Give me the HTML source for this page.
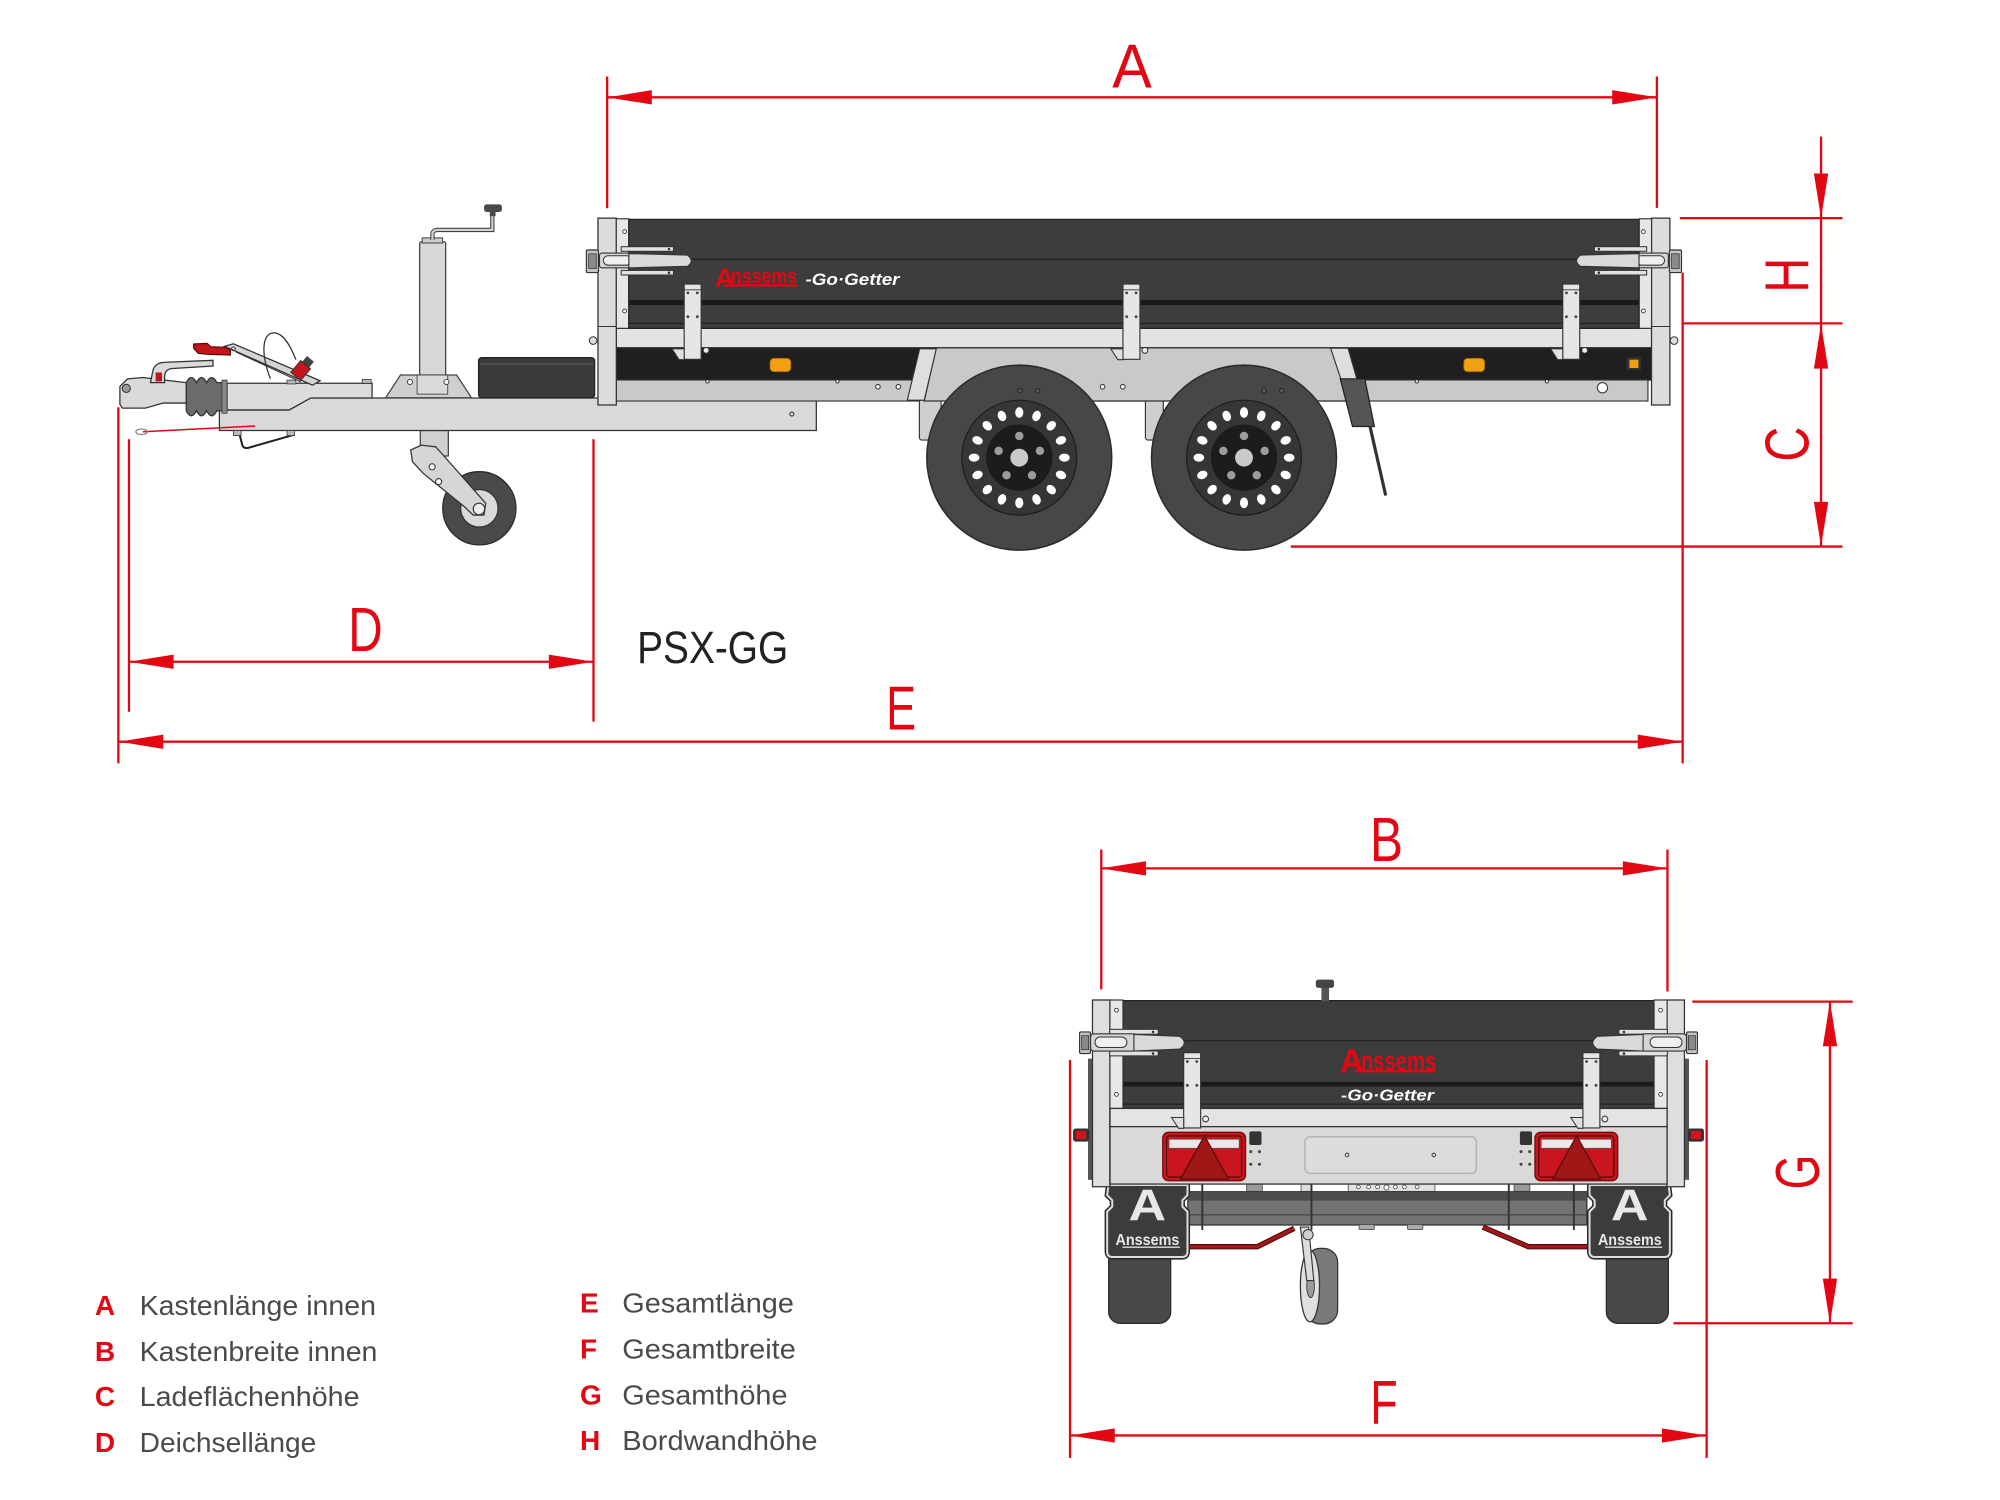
<!DOCTYPE html>
<html><head><meta charset="utf-8">
<style>
html,body{margin:0;padding:0;background:#fff;}
svg{display:block;}
text{font-family:"Liberation Sans",Arial,sans-serif;}
</style></head><body>
<svg width="2000" height="1500" viewBox="0 0 1568 1176" xmlns="http://www.w3.org/2000/svg" xmlns:xlink="http://www.w3.org/1999/xlink">
<rect width="1568" height="1176" fill="#fff"/>
<defs>
 <g id="wheel">
  <circle r="72.5" fill="#474747" stroke="#2b2b2b" stroke-width="1.2"/>
  <circle r="45" fill="#363636" stroke="#1e1e1e" stroke-width="1"/>
  <circle r="26" fill="#1c1c1c"/>
  <g fill="#fff">
   <ellipse cx="0" cy="-35.4" rx="3.2" ry="4.2"/>
   <ellipse cx="0" cy="-35.4" rx="3.2" ry="4.2" transform="rotate(22.5)"/>
   <ellipse cx="0" cy="-35.4" rx="3.2" ry="4.2" transform="rotate(45)"/>
   <ellipse cx="0" cy="-35.4" rx="3.2" ry="4.2" transform="rotate(67.5)"/>
   <ellipse cx="0" cy="-35.4" rx="3.2" ry="4.2" transform="rotate(90)"/>
   <ellipse cx="0" cy="-35.4" rx="3.2" ry="4.2" transform="rotate(112.5)"/>
   <ellipse cx="0" cy="-35.4" rx="3.2" ry="4.2" transform="rotate(135)"/>
   <ellipse cx="0" cy="-35.4" rx="3.2" ry="4.2" transform="rotate(157.5)"/>
   <ellipse cx="0" cy="-35.4" rx="3.2" ry="4.2" transform="rotate(180)"/>
   <ellipse cx="0" cy="-35.4" rx="3.2" ry="4.2" transform="rotate(202.5)"/>
   <ellipse cx="0" cy="-35.4" rx="3.2" ry="4.2" transform="rotate(225)"/>
   <ellipse cx="0" cy="-35.4" rx="3.2" ry="4.2" transform="rotate(247.5)"/>
   <ellipse cx="0" cy="-35.4" rx="3.2" ry="4.2" transform="rotate(270)"/>
   <ellipse cx="0" cy="-35.4" rx="3.2" ry="4.2" transform="rotate(292.5)"/>
   <ellipse cx="0" cy="-35.4" rx="3.2" ry="4.2" transform="rotate(315)"/>
   <ellipse cx="0" cy="-35.4" rx="3.2" ry="4.2" transform="rotate(337.5)"/>
  </g>
  <g fill="#9c9c9c">
   <circle cx="0" cy="-17" r="3.3"/>
   <circle cx="16.2" cy="-5.3" r="3.3"/>
   <circle cx="10" cy="13.8" r="3.3"/>
   <circle cx="-10" cy="13.8" r="3.3"/>
   <circle cx="-16.2" cy="-5.3" r="3.3"/>
  </g>
  <circle r="7" fill="#cacaca"/>
 </g>
 <g id="stake">
  <rect x="0" y="0" width="13.3" height="59" fill="#e6e6e6" stroke="#333" stroke-width="0.9"/>
  <line x1="0" y1="4.5" x2="13.3" y2="4.5" stroke="#333" stroke-width="0.7"/>
  <g fill="#444"><circle cx="2.9" cy="6.9" r="1.1"/><circle cx="10.3" cy="6.9" r="1.1"/><circle cx="2.9" cy="25.6" r="1.1"/><circle cx="10.3" cy="25.6" r="1.1"/></g>
  <polygon points="-9.5,50.8 0,50.8 0,59.3 -4,59.3" fill="#e0e0e0" stroke="#333" stroke-width="0.8"/>
  <circle cx="17.2" cy="52" r="2.3" fill="#eee" stroke="#333" stroke-width="0.8"/>
 </g>
 <g id="latchS">
  <rect x="459.7" y="196" width="9.5" height="17.7" rx="1" fill="#c4c4c4" stroke="#333" stroke-width="0.9"/>
  <rect x="461.5" y="199" width="6" height="11.5" fill="#8a8a8a" stroke="#333" stroke-width="0.6"/>
  <rect x="487" y="193.4" width="41" height="3.6" fill="#e2e2e2" stroke="#333" stroke-width="0.8"/>
  <rect x="487" y="212" width="41" height="3.6" fill="#e2e2e2" stroke="#333" stroke-width="0.8"/>
  <circle cx="524.5" cy="195.2" r="1" fill="#333"/>
  <circle cx="524.5" cy="213.8" r="1" fill="#333"/>
  <rect x="470" y="198.4" width="32" height="11.6" rx="2" fill="#d6d6d6" stroke="#333" stroke-width="0.9"/>
  <rect x="473" y="200.5" width="22" height="7.4" rx="3.7" fill="#efefef" stroke="#333" stroke-width="0.8"/>
  <path d="M493 198.8 L539 200 Q545 204.4 539 208.8 L493 210 Z" fill="#d9d9d9" stroke="#333" stroke-width="0.9"/>
 </g>
 <g id="latchR">
  <rect x="846.4" y="809" width="8.5" height="17" rx="1" fill="#c4c4c4" stroke="#333" stroke-width="0.9"/>
  <rect x="848" y="812" width="5.5" height="11" fill="#8a8a8a" stroke="#333" stroke-width="0.6"/>
  <rect x="870" y="807" width="38" height="3.8" fill="#e2e2e2" stroke="#333" stroke-width="0.8"/>
  <rect x="870" y="824" width="38" height="3.8" fill="#e2e2e2" stroke="#333" stroke-width="0.8"/>
  <circle cx="904" cy="809" r="1" fill="#333"/>
  <circle cx="904" cy="826" r="1" fill="#333"/>
  <rect x="855" y="810.5" width="36" height="13.5" rx="2.5" fill="#d6d6d6" stroke="#333" stroke-width="0.9"/>
  <rect x="858.5" y="813" width="25" height="8.2" rx="4" fill="#efefef" stroke="#333" stroke-width="0.8"/>
  <path d="M889 811 L925 812.5 Q932 817.5 925 822.5 L889 824 Z" fill="#d9d9d9" stroke="#333" stroke-width="0.9"/>
 </g>
 <g id="taillight">
  <rect x="911.6" y="887.7" width="64.9" height="38" rx="4.5" fill="#c8141d" stroke="#6e0a0f" stroke-width="1"/>
  <rect x="914.6" y="890.6" width="58.9" height="32.2" rx="2.5" fill="#c9161e" stroke="#4a0808" stroke-width="0.9"/>
  <rect x="916.5" y="893.2" width="55" height="7" fill="#e8e8e8" stroke="#555" stroke-width="0.5"/>
  <polygon points="944.3,890.4 963,924.3 925.6,924.3" fill="#a01717" stroke="#5e0b0b" stroke-width="1" stroke-linejoin="round"/>
 </g>
 <g id="flap">
  <path d="M869 929 L931 929 L931 937 L927 941 L927 946 L931 950 L931 981 Q931 985.5 927 985.5 L872 985.5 Q868 985.5 868 981 L868 950 L872 946 L872 941 L868 937 Z" fill="#3c3c3c" stroke="#2a2a2a" stroke-width="4"/>
  <path d="M869 929 L931 929 L931 937 L927 941 L927 946 L931 950 L931 981 Q931 985.5 927 985.5 L872 985.5 Q868 985.5 868 981 L868 950 L872 946 L872 941 L868 937 Z" fill="#3c3c3c" stroke="#dcdcdc" stroke-width="1.6"/>
 </g>
</defs>

<!-- ================= SIDE VIEW ================= -->
<rect x="329" y="189.5" width="20.4" height="148" rx="1.5" fill="#d8d8d8" stroke="#444" stroke-width="1"/>
<rect x="331" y="186.5" width="16" height="4" fill="#ccc" stroke="#444" stroke-width="0.8"/>
<path d="M339 188 L339 184 Q339 180.3 343 180.3 L386 180.3 L386 168" stroke="#444" stroke-width="3.4" fill="none"/>
<path d="M339 188 L339 184 Q339 180.3 343 180.3 L386 180.3 L386 168" stroke="#d2d2d2" stroke-width="1.7" fill="none"/>
<rect x="379.5" y="160.2" width="14" height="6" rx="2" fill="#4a4a4a"/>
<rect x="384" y="165.5" width="4.5" height="4" fill="#4a4a4a"/>
<rect x="329.5" y="337.5" width="22" height="20" fill="#d0d0d0" stroke="#444" stroke-width="1"/>
<circle cx="375.8" cy="398.5" r="28.7" fill="#4a4a4a" stroke="#2a2a2a" stroke-width="1"/>
<circle cx="375.8" cy="398.5" r="14.7" fill="#d9d9d9" stroke="#333" stroke-width="1"/>
<polygon points="322,352.8 330.4,349 341.6,350.3 348.6,358.1 380.8,394.6 379.4,403.8 371,403.8 364,397.2 331.8,371.1 323.4,362" fill="#d6d6d6" stroke="#333" stroke-width="1"/>
<circle cx="338.8" cy="366" r="2.4" fill="#fff" stroke="#333" stroke-width="0.8"/>
<circle cx="343.9" cy="377.6" r="2.4" fill="#fff" stroke="#333" stroke-width="0.8"/>
<circle cx="375.5" cy="399" r="4.5" fill="#eee" stroke="#333" stroke-width="0.9"/>

<polygon points="172,321.4 226.7,321.4 243.6,312 640,312 640,337.5 172,337.5" fill="#d9d9d9" stroke="#333" stroke-width="1"/>
<polygon points="178,300.5 291.7,300.5 291.7,312 243.6,312 226.7,321.4 178,321.4" fill="#dcdcdc" stroke="#333" stroke-width="1"/>
<rect x="284" y="297.5" width="7" height="3" fill="#bbb" stroke="#333" stroke-width="0.6"/>
<rect x="225" y="298" width="7" height="3" fill="#bbb" stroke="#333" stroke-width="0.6"/>
<circle cx="620.8" cy="324.6" r="1.6" fill="none" stroke="#333" stroke-width="0.8"/>
<path d="M187 337.5 L190 349 Q191 352 195 351 L230 341 L229 337.5" stroke="#222" stroke-width="1.6" fill="none"/>
<rect x="183" y="337.5" width="6" height="4" fill="#bbb" stroke="#333" stroke-width="0.6"/>
<rect x="225" y="337.5" width="6" height="4" fill="#bbb" stroke="#333" stroke-width="0.6"/>
<line x1="112" y1="338.5" x2="200" y2="334" stroke="#e30613" stroke-width="1.2"/>
<ellipse cx="111" cy="338.5" rx="4.5" ry="2.2" fill="none" stroke="#888" stroke-width="1"/>
<polygon points="302.4,311.8 314,294 358,294 369.6,311.8" fill="#cfcfcf" stroke="#444" stroke-width="1"/>
<rect x="327" y="294" width="24" height="15" fill="#dadada" stroke="#444" stroke-width="0.7"/>
<circle cx="321.4" cy="299.5" r="2" fill="#fff" stroke="#444" stroke-width="0.8"/>
<circle cx="350" cy="299.5" r="2" fill="#fff" stroke="#444" stroke-width="0.8"/>
<rect x="375.2" y="280.4" width="91" height="31.4" rx="2.5" fill="#3b3b3b" stroke="#222" stroke-width="1"/>
<line x1="376" y1="285.5" x2="465" y2="285.5" stroke="#555" stroke-width="1"/>

<path d="M146 300 Q150 292 154 300 Q158 292 162 300 Q166 292 170 300 L176.4 300 L176.4 322 L170 322 Q166 330 162 322 Q158 330 154 322 Q150 330 146 322 Z" fill="#6b6b6b" stroke="#333" stroke-width="1"/>
<rect x="174" y="298" width="4" height="26" fill="#888" stroke="#333" stroke-width="0.6"/>
<polygon points="94,303 100,297 112,296 146,300 146,316 128,316 114,320 96,320 94,317" fill="#dadada" stroke="#333" stroke-width="1"/>
<path d="M118 300 L120 290 Q122 284 130 284 L167 282.5 L167 287 L134 289 Q129 290 129 296 L129 300 Z" fill="#dadada" stroke="#333" stroke-width="1"/>
<rect x="122" y="292" width="5" height="7" fill="#c0161e"/>
<circle cx="99" cy="304.5" r="3.2" fill="#9a9a9a" stroke="#333" stroke-width="0.8"/>
<polygon points="176,271.5 183,269.5 251,298.5 245,302" fill="#d4d4d4" stroke="#333" stroke-width="1"/>
<line x1="185" y1="276" x2="236" y2="299.5" stroke="#333" stroke-width="0.8"/>
<circle cx="183" cy="273.5" r="1.5" fill="none" stroke="#333" stroke-width="0.7"/>
<polygon points="151.8,269.7 162.4,269.2 165.2,271.8 176.4,272.3 180.6,274.4 180.6,278.3 162.4,277.8 155.4,277 151.8,273.1" fill="#c3151c" stroke="#5a0a0a" stroke-width="0.9"/>
<path d="M212 297 C204 276 206 262 214 261 C222 260 228 272 232 282" stroke="#333" stroke-width="1" fill="none"/>
<g transform="translate(237,289) rotate(40)">
 <rect x="-3.5" y="-10" width="7" height="6" fill="#444"/>
 <rect x="-5" y="-4" width="10" height="12" fill="#c3151c" stroke="#333" stroke-width="0.8"/>
</g>

<rect x="483" y="272.6" width="812" height="25.3" fill="#1f1f1f" stroke="#222" stroke-width="1"/>
<rect x="483" y="297.9" width="809" height="16.5" fill="#c9c9c9" stroke="#333" stroke-width="0.9"/>
<rect x="720.8" y="313" width="17" height="32" rx="2" fill="#cfcfcf" stroke="#333" stroke-width="0.9"/>
<rect x="898" y="313" width="14" height="32" rx="2" fill="#cfcfcf" stroke="#333" stroke-width="0.9"/>
<polygon points="734,272.6 1050,272.6 1063,314.4 724.6,314.4" fill="#c9c9c9" stroke="#333" stroke-width="1"/>
<polygon points="721,273.5 734,273.5 724.6,313.8 711.3,313.8" fill="#dedede" stroke="#333" stroke-width="0.9"/>
<polygon points="1043.2,273 1056.9,273 1068.6,314 1056.8,314" fill="#dedede" stroke="#333" stroke-width="0.9"/>
<rect x="483" y="257.4" width="812" height="15.2" fill="#e3e3e3" stroke="#333" stroke-width="1"/>
<rect x="493" y="172" width="792" height="85.4" fill="#3d3d3d" stroke="#222" stroke-width="1"/>
<line x1="493" y1="203.3" x2="1285" y2="203.3" stroke="#222" stroke-width="1"/>
<rect x="493" y="235.2" width="792" height="4" fill="#1a1a1a"/>
<line x1="493" y1="253.5" x2="1285" y2="253.5" stroke="#222" stroke-width="1"/>
<rect x="603.7" y="281" width="16.3" height="10.4" rx="3" fill="#f0a010" stroke="#a86800" stroke-width="0.6"/>
<rect x="1147.6" y="281" width="16.3" height="10.4" rx="3" fill="#f0a010" stroke="#a86800" stroke-width="0.6"/>
<rect x="1275.5" y="280" width="11" height="10" fill="#333"/>
<rect x="1277.5" y="282" width="7" height="6.5" fill="#f0a010"/>
<g fill="#fff" stroke="#333" stroke-width="0.8">
 <circle cx="688.3" cy="303.2" r="1.8"/><circle cx="704.3" cy="303.2" r="1.8"/>
 <circle cx="864.4" cy="303.2" r="1.8"/><circle cx="880.3" cy="303.2" r="1.8"/>
 <circle cx="554.7" cy="299" r="1.3"/><circle cx="656.5" cy="299" r="1.3"/>
 <circle cx="1110.8" cy="299" r="1.3"/><circle cx="1212.8" cy="299" r="1.3"/>
 <circle cx="1256.3" cy="304" r="4"/>
</g>
<rect x="468.8" y="171" width="14.4" height="146.5" fill="#dcdcdc" stroke="#333" stroke-width="1"/>
<line x1="468.8" y1="256" x2="483.2" y2="256" stroke="#333" stroke-width="0.8"/>
<rect x="483.2" y="171.5" width="9.6" height="85.9" fill="#e6e6e6" stroke="#333" stroke-width="0.9"/>
<rect x="1294.8" y="171" width="14.4" height="146.5" fill="#dcdcdc" stroke="#333" stroke-width="1"/>
<line x1="1294.8" y1="256" x2="1309.2" y2="256" stroke="#333" stroke-width="0.8"/>
<rect x="1285.2" y="171.5" width="9.6" height="85.9" fill="#e6e6e6" stroke="#333" stroke-width="0.9"/>
<g fill="#fff" stroke="#333" stroke-width="0.7">
 <circle cx="489.7" cy="181.6" r="1.5"/><circle cx="489.7" cy="243.8" r="1.5"/>
 <circle cx="1288.4" cy="181.6" r="1.5"/><circle cx="1288.4" cy="243.8" r="1.5"/>
</g>
<circle cx="465" cy="267" r="3" fill="#ddd" stroke="#333" stroke-width="0.8"/>
<circle cx="1312.5" cy="267" r="3" fill="#ddd" stroke="#333" stroke-width="0.8"/>
<use href="#stake" xlink:href="#stake" transform="translate(536.4,222.7)"/>
<use href="#stake" xlink:href="#stake" transform="translate(880.4,222.7)"/>
<use href="#stake" xlink:href="#stake" transform="translate(1225.2,222.7)"/>
<use href="#latchS" xlink:href="#latchS"/>
<use href="#latchS" xlink:href="#latchS" transform="translate(1778,0) scale(-1,1)"/>
<text x="560.4" y="225.2" font-size="21" font-weight="bold" fill="#e30613" textLength="15.4" lengthAdjust="spacingAndGlyphs">A</text>
<text x="573" y="221.7" font-size="16" font-weight="bold" fill="#e30613" textLength="52" lengthAdjust="spacingAndGlyphs">nssems</text>
<rect x="567" y="222.8" width="58" height="1.8" fill="#e30613"/>
<text x="631.5" y="223.3" font-size="12.7" font-weight="bold" font-style="italic" fill="#fff" textLength="73.7" lengthAdjust="spacingAndGlyphs">-Go·Getter</text>
<use href="#wheel" xlink:href="#wheel" transform="translate(799.1,358.8)"/>
<use href="#wheel" xlink:href="#wheel" transform="translate(975.3,358.8)"/>
<g fill="#555" stroke="#222" stroke-width="0.7">
 <circle cx="799.8" cy="306.3" r="1.8"/><circle cx="813.5" cy="306.3" r="1.8"/>
 <circle cx="991" cy="306.3" r="1.8"/><circle cx="1004.9" cy="306.3" r="1.8"/>
</g>
<polygon points="1050.8,297 1070,297 1077.5,334.4 1060.4,334.4" fill="#555" stroke="#222" stroke-width="1"/>
<line x1="1074" y1="334" x2="1086.4" y2="388.5" stroke="#333" stroke-width="2.5"/>

<!-- ================= REAR VIEW ================= -->
<rect x="869.2" y="960" width="48.6" height="77.5" rx="9" fill="#484848" stroke="#2a2a2a" stroke-width="1"/>
<rect x="1259.4" y="960" width="48.6" height="77.5" rx="9" fill="#484848" stroke="#2a2a2a" stroke-width="1"/>
<rect x="853" y="830" width="4" height="95" fill="#555"/>
<rect x="1320.2" y="830" width="4" height="95" fill="#555"/>
<rect x="977.3" y="927" width="12.4" height="7" fill="#999" stroke="#444" stroke-width="0.6"/>
<rect x="1187" y="927" width="12.4" height="7" fill="#999" stroke="#444" stroke-width="0.6"/>
<rect x="1057" y="927" width="68" height="7" fill="#e2e2e2" stroke="#444" stroke-width="0.6"/>
<g fill="#fff" stroke="#444" stroke-width="0.6">
 <circle cx="1065" cy="930.5" r="1.5"/><circle cx="1073" cy="930.5" r="1.5"/><circle cx="1080" cy="930.5" r="1.5"/><circle cx="1087" cy="931" r="2"/><circle cx="1094" cy="930.5" r="1.5"/><circle cx="1101" cy="930.5" r="1.5"/><circle cx="1111" cy="930.5" r="1.5"/>
</g>
<rect x="1020" y="927" width="8" height="7" fill="#ddd" stroke="#444" stroke-width="0.6"/>
<rect x="931.3" y="934.3" width="312.8" height="26.1" fill="#737373" stroke="#333" stroke-width="1"/>
<rect x="931.3" y="934.3" width="312.8" height="7" fill="#4d4d4d"/>
<line x1="931.3" y1="952.5" x2="1244.1" y2="952.5" stroke="#444" stroke-width="1"/>
<rect x="1065.5" y="960" width="12" height="4" rx="1" fill="#aaa" stroke="#444" stroke-width="0.6"/>
<rect x="1103.5" y="960" width="12" height="4" rx="1" fill="#aaa" stroke="#444" stroke-width="0.6"/>
<g stroke="#333" stroke-width="1.5">
 <line x1="942.6" y1="928" x2="942.6" y2="964.3"/>
 <line x1="1028.2" y1="928" x2="1028.2" y2="964.3"/>
 <line x1="1182.9" y1="928" x2="1182.9" y2="964.3"/>
 <line x1="1233.9" y1="928" x2="1233.9" y2="964.3"/>
</g>
<path d="M930 977.4 L985.8 977.4 L1014.7 963" stroke="#4a0808" stroke-width="4.2" fill="none"/>
<path d="M930 977.4 L985.8 977.4 L1014.7 963" stroke="#a3161a" stroke-width="2.6" fill="none"/>
<path d="M1162.5 962 L1198.3 977.4 L1248 977.4" stroke="#4a0808" stroke-width="4.2" fill="none"/>
<path d="M1162.5 962 L1198.3 977.4 L1248 977.4" stroke="#a3161a" stroke-width="2.6" fill="none"/>
<rect x="1024" y="978.7" width="24.7" height="59.3" rx="11" fill="#7a7a7a" stroke="#333" stroke-width="1"/>
<ellipse cx="1027" cy="1008.3" rx="7.5" ry="28" fill="#e0e0e0" stroke="#333" stroke-width="1"/>
<ellipse cx="1027.5" cy="1008.3" rx="3" ry="9" fill="#9a9a9a" stroke="#333" stroke-width="0.7"/>
<polygon points="1019.5,962 1026,962 1030,1004 1024.5,1004" fill="#dcdcdc" stroke="#333" stroke-width="0.9"/>
<circle cx="1025.5" cy="968" r="4" fill="#cfcfcf" stroke="#333" stroke-width="0.8"/>
<use href="#flap" xlink:href="#flap"/>
<use href="#flap" xlink:href="#flap" transform="translate(2177.2,0) scale(-1,1)"/>
<text x="899.5" y="957" font-size="35" font-weight="bold" fill="#e8e8e8" text-anchor="middle" textLength="29.5" lengthAdjust="spacingAndGlyphs">A</text>
<text x="1277.7" y="957" font-size="35" font-weight="bold" fill="#e8e8e8" text-anchor="middle" textLength="29.5" lengthAdjust="spacingAndGlyphs">A</text>
<text x="874.6" y="976" font-size="12" font-weight="bold" fill="#e8e8e8" textLength="50" lengthAdjust="spacingAndGlyphs">Anssems</text>
<text x="1252.8" y="976" font-size="12" font-weight="bold" fill="#e8e8e8" textLength="50" lengthAdjust="spacingAndGlyphs">Anssems</text>
<rect x="880" y="977.3" width="45" height="1" fill="#e8e8e8"/>
<rect x="1258.2" y="977.3" width="45" height="1" fill="#e8e8e8"/>
<rect x="856.5" y="784" width="13.7" height="146.4" fill="#dedede" stroke="#333" stroke-width="1"/>
<rect x="1306.9" y="784" width="13.7" height="146.4" fill="#dedede" stroke="#333" stroke-width="1"/>
<rect x="880.4" y="784.5" width="416.6" height="84.5" fill="#3d3d3d" stroke="#222" stroke-width="1"/>
<line x1="880.4" y1="816" x2="1297" y2="816" stroke="#222" stroke-width="1"/>
<rect x="880.4" y="848.2" width="416.6" height="3.6" fill="#1a1a1a"/>
<line x1="880.4" y1="865.6" x2="1297" y2="865.6" stroke="#222" stroke-width="1"/>
<rect x="870.2" y="784" width="10.2" height="85" fill="#e8e8e8" stroke="#333" stroke-width="0.9"/>
<rect x="1296.8" y="784" width="10.2" height="85" fill="#e8e8e8" stroke="#333" stroke-width="0.9"/>
<g fill="#fff" stroke="#333" stroke-width="0.7">
 <circle cx="875.3" cy="792" r="1.5"/><circle cx="875.3" cy="858" r="1.5"/>
 <circle cx="1301.9" cy="792" r="1.5"/><circle cx="1301.9" cy="858" r="1.5"/>
</g>
<rect x="870.2" y="869" width="436.8" height="14.3" fill="#e4e4e4" stroke="#333" stroke-width="1"/>
<rect x="870.2" y="883.3" width="436.8" height="45" fill="#d9d9d9" stroke="#333" stroke-width="1"/>
<line x1="870.2" y1="869" x2="870.2" y2="928.3" stroke="#333" stroke-width="1"/>
<use href="#taillight" xlink:href="#taillight"/>
<use href="#taillight" xlink:href="#taillight" transform="translate(291.8,0)"/>
<rect x="979.5" y="887" width="9.5" height="10.7" rx="1.5" fill="#333"/>
<rect x="1191.6" y="887" width="9.5" height="10.7" rx="1.5" fill="#333"/>
<g fill="#444">
 <circle cx="980.6" cy="902.9" r="1.2"/><circle cx="987.4" cy="902.9" r="1.2"/><circle cx="980.6" cy="912.8" r="1.2"/><circle cx="987.4" cy="912.8" r="1.2"/>
 <circle cx="1192.5" cy="902.9" r="1.2"/><circle cx="1199.3" cy="902.9" r="1.2"/><circle cx="1192.5" cy="912.8" r="1.2"/><circle cx="1199.3" cy="912.8" r="1.2"/>
</g>
<rect x="1023.1" y="891.2" width="134.3" height="28.7" rx="4" fill="#dcdcdc" stroke="#b5b5b5" stroke-width="1.2"/>
<circle cx="1056.1" cy="905.5" r="1.4" fill="none" stroke="#444" stroke-width="0.8"/>
<circle cx="1124.1" cy="905.5" r="1.4" fill="none" stroke="#444" stroke-width="0.8"/>
<rect x="841.3" y="884.7" width="12.7" height="10.3" rx="2" fill="#333"/>
<rect x="843.5" y="886.6" width="8" height="6.5" fill="#d4141c"/>
<rect x="1323.2" y="884.7" width="12.7" height="10.3" rx="2" fill="#333"/>
<rect x="1325.6" y="886.6" width="8" height="6.5" fill="#d4141c"/>
<use href="#stake" xlink:href="#stake" transform="translate(928,825.3)"/>
<use href="#stake" xlink:href="#stake" transform="translate(1241,825.3)"/>
<use href="#latchR" xlink:href="#latchR"/>
<use href="#latchR" xlink:href="#latchR" transform="translate(2177.2,0) scale(-1,1)"/>
<rect x="1036" y="774" width="6" height="11" fill="#555"/>
<rect x="1031.6" y="768" width="14.3" height="6.5" rx="2" fill="#444"/>
<text x="1050.4" y="841" font-size="26" font-weight="bold" fill="#e30613" textLength="19" lengthAdjust="spacingAndGlyphs">A</text>
<text x="1067" y="839" font-size="21" font-weight="bold" fill="#e30613" textLength="59" lengthAdjust="spacingAndGlyphs">nssems</text>
<rect x="1062" y="838.8" width="64" height="2" fill="#e30613"/>
<text x="1051.4" y="863" font-size="12.5" font-weight="bold" font-style="italic" fill="#fff" textLength="72.8" lengthAdjust="spacingAndGlyphs">-Go·Getter</text>

<!-- ================= DIMENSIONS ================= -->
<g stroke="#e30613" stroke-width="1.8" fill="none">
 <line x1="476" y1="76.3" x2="1299" y2="76.3"/>
 <line x1="476" y1="60" x2="476" y2="163.3"/>
 <line x1="1299" y1="60" x2="1299" y2="163"/>
 <line x1="1427.7" y1="107" x2="1427.7" y2="428.5"/>
 <line x1="1317" y1="171" x2="1444.5" y2="171"/>
 <line x1="1319.5" y1="253.5" x2="1444.5" y2="253.5"/>
 <line x1="1012" y1="428.5" x2="1444.5" y2="428.5"/>
 <line x1="1319.2" y1="213.7" x2="1319.2" y2="598.5"/>
 <line x1="92.8" y1="319.3" x2="92.8" y2="598.5"/>
 <line x1="93" y1="581.5" x2="1319" y2="581.5"/>
 <line x1="101.1" y1="518.8" x2="465.3" y2="518.8"/>
 <line x1="101.1" y1="344.4" x2="101.1" y2="558"/>
 <line x1="465.3" y1="344.4" x2="465.3" y2="565.8"/>
 <line x1="863.4" y1="680.8" x2="1307.3" y2="680.8"/>
 <line x1="863.4" y1="666" x2="863.4" y2="775.7"/>
 <line x1="1307.3" y1="666" x2="1307.3" y2="777.3"/>
 <line x1="839" y1="1125.4" x2="1338" y2="1125.4"/>
 <line x1="838.9" y1="831" x2="838.9" y2="1143"/>
 <line x1="1338" y1="831" x2="1338" y2="1143"/>
 <line x1="1434.7" y1="785.3" x2="1434.7" y2="1037.4"/>
 <line x1="1326.8" y1="785.3" x2="1452.5" y2="785.3"/>
 <line x1="1312" y1="1037.4" x2="1452.5" y2="1037.4"/>
</g>
<g fill="#e30613">
 <polygon points="476,76.3 511,70.7 511,81.9"/>
 <polygon points="1299,76.3 1264,70.7 1264,81.9"/>
 <polygon points="1427.7,171 1422.1,136 1433.3,136"/>
 <polygon points="1427.7,254 1422.1,289 1433.3,289"/>
 <polygon points="1427.7,428.5 1422.1,393.5 1433.3,393.5"/>
 <polygon points="93,581.5 128,575.9 128,587.1"/>
 <polygon points="1319,581.5 1284,575.9 1284,587.1"/>
 <polygon points="101.1,518.8 136.1,513.2 136.1,524.4"/>
 <polygon points="465.3,518.8 430.3,513.2 430.3,524.4"/>
 <polygon points="863.4,680.8 898.4,675.2 898.4,686.4"/>
 <polygon points="1307.3,680.8 1272.3,675.2 1272.3,686.4"/>
 <polygon points="839,1125.4 874,1119.8 874,1131"/>
 <polygon points="1338,1125.4 1303,1119.8 1303,1131"/>
 <polygon points="1434.7,785.3 1429.1,820.3 1440.3,820.3"/>
 <polygon points="1434.7,1037.4 1429.1,1002.4 1440.3,1002.4"/>
</g>
<g fill="#e30613" font-size="49" text-anchor="middle">
 <text x="887.5" y="68.5" textLength="31" lengthAdjust="spacingAndGlyphs">A</text>
 <text x="286.5" y="510.4" textLength="27" lengthAdjust="spacingAndGlyphs">D</text>
 <text x="706.5" y="571.8" textLength="23.5" lengthAdjust="spacingAndGlyphs">E</text>
 <text x="1087" y="675" textLength="26" lengthAdjust="spacingAndGlyphs">B</text>
 <text x="1085" y="1116.5" textLength="21.5" lengthAdjust="spacingAndGlyphs">F</text>
 <text transform="translate(1400.5,215.8) rotate(-90)" x="0" y="17.5" textLength="27.5" lengthAdjust="spacingAndGlyphs">H</text>
 <text transform="translate(1400.5,348.2) rotate(-90)" x="0" y="17.5" textLength="27.4" lengthAdjust="spacingAndGlyphs">C</text>
 <text transform="translate(1408.6,918.9) rotate(-90)" x="0" y="17.5" textLength="27.2" lengthAdjust="spacingAndGlyphs">G</text>
</g>

<text x="499.5" y="520" font-size="35.6" fill="#222" textLength="118.5" lengthAdjust="spacingAndGlyphs">PSX-GG</text>

<!-- ================= LEGEND ================= -->
<g font-size="22" font-weight="bold" fill="#e30613">
 <text x="74.4" y="1031">A</text>
 <text x="74.4" y="1067">B</text>
 <text x="74.4" y="1102.5">C</text>
 <text x="74.4" y="1138.5">D</text>
 <text x="454.7" y="1029">E</text>
 <text x="454.7" y="1065">F</text>
 <text x="454.7" y="1101">G</text>
 <text x="454.7" y="1137">H</text>
</g>
<g font-size="22" fill="#4a4a4a">
 <text x="109.5" y="1031" textLength="185.3" lengthAdjust="spacingAndGlyphs">Kastenlänge innen</text>
 <text x="109.5" y="1067" textLength="186.4" lengthAdjust="spacingAndGlyphs">Kastenbreite innen</text>
 <text x="109.5" y="1102.5" textLength="172.4" lengthAdjust="spacingAndGlyphs">Ladeflächenhöhe</text>
 <text x="109.5" y="1138.5" textLength="138.5" lengthAdjust="spacingAndGlyphs">Deichsellänge</text>
 <text x="487.9" y="1029" textLength="134.5" lengthAdjust="spacingAndGlyphs">Gesamtlänge</text>
 <text x="487.9" y="1065" textLength="136" lengthAdjust="spacingAndGlyphs">Gesamtbreite</text>
 <text x="487.9" y="1101" textLength="129.5" lengthAdjust="spacingAndGlyphs">Gesamthöhe</text>
 <text x="487.9" y="1137" textLength="153" lengthAdjust="spacingAndGlyphs">Bordwandhöhe</text>
</g>
</svg>
</body></html>
